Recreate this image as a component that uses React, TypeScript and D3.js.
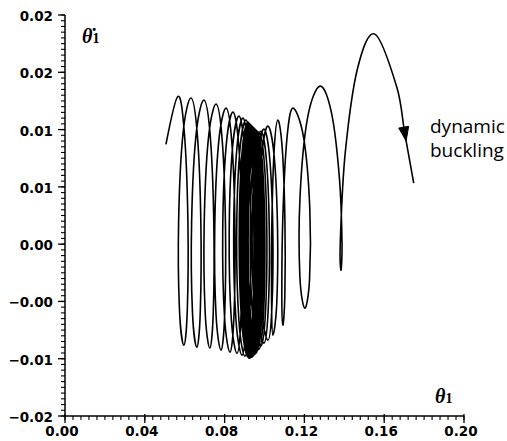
import React from 'react';
import * as d3 from 'd3';

const W = 507;
const H = 441;

// axis ticks
const xTickValues = [0, 0.04, 0.08, 0.12, 0.16, 0.2];
const xTickLabels = ['0.00', '0.04', '0.08', '0.12', '0.16', '0.20'];
const yTickValues = [0.02, 0.015, 0.01, 0.005, 0, -0.005, -0.01, -0.015];
const yTickLabels = ['0.02', '0.02', '0.01', '0.01', '0.00', '\u22120.00', '\u22120.01', '\u22120.02'];

// trajectory (theta1, theta1-dot)
const startTheta = 0.0506;
const startRate = 0.0087;

const peakTheta = [0.0566, 0.0631, 0.0696, 0.0757, 0.0807, 0.0842, 0.0872, 0.0892, 0.0907, 0.0917, 0.0922, 0.0927, 0.0932, 0.0937, 0.0942, 0.0947, 0.0952, 0.0957, 0.0962, 0.0972, 0.0982, 0.0997, 0.1017, 0.1067, 0.1142, 0.1278, 0.1553];
const peakRate = [0.0129, 0.01275, 0.01257, 0.01222, 0.01187, 0.01152, 0.01117, 0.011, 0.01083, 0.01065, 0.01056, 0.01048, 0.01039, 0.0103, 0.01021, 0.01013, 0.01004, 0.00995, 0.00986, 0.00978, 0.00986, 0.01004, 0.0103, 0.01083, 0.01187, 0.01379, 0.01833];

const troughTheta = [0.0596, 0.0661, 0.0726, 0.0782, 0.0827, 0.0862, 0.0887, 0.0902, 0.0917, 0.0922, 0.0927, 0.0932, 0.0937, 0.0942, 0.0947, 0.0952, 0.0957, 0.0962, 0.0972, 0.0982, 0.0997, 0.1017, 0.1042, 0.1092, 0.1202, 0.1383];
const troughRate = [-0.00882, -0.00899, -0.00908, -0.00925, -0.00943, -0.00952, -0.00969, -0.00978, -0.00986, -0.00995, -0.00995, -0.00986, -0.00986, -0.00978, -0.00969, -0.0096, -0.00952, -0.00934, -0.00917, -0.0089, -0.00864, -0.00838, -0.00794, -0.00707, -0.00559, -0.00227];

// half-widths (in theta) of each descending / ascending half loop
const descWidth = [0.0035, 0.0035, 0.0035, 0.0035, 0.0035, 0.0035, 0.0035, 0.0035, 0.0035, 0.0035, 0.0035, 0.0035, 0.0035, 0.0035, 0.0035, 0.0035, 0.0035, 0.0035, 0.0035, 0.0035, 0.0035, 0.0035, 0.0036, 0.0023, 0.0055, 0.0045];
const ascWidth = [0.0044, 0.0044, 0.0044, 0.0044, 0.0044, 0.0044, 0.0044, 0.0044, 0.0044, 0.0044, 0.0044, 0.0044, 0.0044, 0.0044, 0.0044, 0.0044, 0.0044, 0.0044, 0.0044, 0.0044, 0.0044, 0.0044, 0.0018, 0.0025, 0.0062, 0.0063];

// final descent (dynamic buckling)
const tailTheta = [0.1663, 0.1703, 0.1748];
const tailRate = [0.01371, 0.00969, 0.00533];

const annotation = ['dynamic', 'buckling'];

function buildTrajectory(): [number, number][] {
  const pts: [number, number][] = [[startTheta, startRate]];
  const fr = [0.25, 0.5, 0.75];
  const an = [Math.PI / 4, Math.PI / 2, (3 * Math.PI) / 4];
  const half = (x0: number, y0: number, x1: number, y1: number, w: number, s: number) => {
    const my = (y0 + y1) / 2;
    const hy = (y0 - y1) / 2;
    for (let i = 0; i < 3; i++) {
      pts.push([x0 + (x1 - x0) * fr[i] + s * w * Math.sin(an[i]), my + hy * Math.cos(an[i])]);
    }
  };
  for (let k = 0; k < peakTheta.length; k++) {
    pts.push([peakTheta[k], peakRate[k]]);
    if (k < troughTheta.length) {
      half(peakTheta[k], peakRate[k], troughTheta[k], troughRate[k], descWidth[k], 1);
      pts.push([troughTheta[k], troughRate[k]]);
      if (k + 1 < peakTheta.length) {
        half(troughTheta[k], troughRate[k], peakTheta[k + 1], peakRate[k + 1], ascWidth[k], -1);
      }
    }
  }
  for (let i = 0; i < tailTheta.length; i++) pts.push([tailTheta[i], tailRate[i]]);
  return pts;
}

export default function App() {
  const x = d3.scaleLinear().domain([0, 0.2]).range([65, 464]);
  const y = d3.scaleLinear().domain([-0.015, 0.02]).range([416, 15]);

  const xMinor = d3.range(0, 0.2 + 1e-9, 0.004);
  const yMinor = d3.range(-0.015, 0.02 + 1e-9, 0.0005);

  const traj = buildTrajectory();
  const line = d3
    .line<[number, number]>()
    .x((d) => x(d[0]))
    .y((d) => y(d[1]))
    .curve(d3.curveCatmullRom.alpha(0));
  const pathD = line(traj) || '';

  // arrow head on final descent
  const ax = x(tailTheta[1]);
  const ay = y(tailRate[1]);
  const dx = x(tailTheta[2]) - x(tailTheta[0]);
  const dy = y(tailRate[2]) - y(tailRate[0]);
  const len = Math.hypot(dx, dy);
  const ux = dx / len;
  const uy = dy / len;
  const tip = [ax + ux * 8, ay + uy * 8];
  const bc = [ax - ux * 6, ay - uy * 6];
  const arrow = `M${tip[0]},${tip[1]} L${bc[0] - uy * 5},${bc[1] + ux * 5} L${bc[0] + uy * 5},${bc[1] - ux * 5} Z`;

  const labelFont = 'DejaVu Sans, Verdana, sans-serif';

  return (
    <svg width={W} height={H} style={{ position: 'absolute', left: 0, top: 0, background: '#fff' }}>
      <rect x={0} y={0} width={W} height={H} fill="#fff" />
      <line x1={x(0)} x2={x(0)} y1={y(0.02)} y2={y(-0.015)} stroke="#000" strokeWidth={1.5} />
      <line x1={x(0)} x2={x(0.2)} y1={y(-0.015)} y2={y(-0.015)} stroke="#000" strokeWidth={1.5} />
      {yMinor.map((v, i) => (
        <line key={'ym' + i} x1={x(0) - 4} x2={x(0)} y1={y(v)} y2={y(v)} stroke="#000" strokeWidth={1.1} />
      ))}
      {yTickValues.map((v, i) => (
        <line key={'yM' + i} x1={x(0) - 7} x2={x(0)} y1={y(v)} y2={y(v)} stroke="#000" strokeWidth={1.3} />
      ))}
      {yTickValues.map((v, i) => (
        <text key={'yl' + i} x={x(0) - 12} y={y(v) + 6} textAnchor="end" fontFamily={labelFont} fontWeight="bold" fontSize={13.5} fill="#000">
          {yTickLabels[i]}
        </text>
      ))}
      {xMinor.map((v, i) => (
        <line key={'xm' + i} x1={x(v)} x2={x(v)} y1={y(-0.015)} y2={y(-0.015) + 4} stroke="#000" strokeWidth={1.1} />
      ))}
      {xTickValues.map((v, i) => (
        <line key={'xM' + i} x1={x(v)} x2={x(v)} y1={y(-0.015) - 2} y2={y(-0.015) + 7} stroke="#000" strokeWidth={1.3} />
      ))}
      {xTickValues.map((v, i) => (
        <text key={'xl' + i} x={x(v) - 3} y={436} textAnchor="middle" fontFamily={labelFont} fontWeight="bold" fontSize={13.5} fill="#000">
          {xTickLabels[i]}
        </text>
      ))}
      <text x={82} y={43} fontFamily="Liberation Serif, serif" fontWeight="bold" fill="#000">
        <tspan fontStyle="italic" fontSize={20}>{'\u03B8\u0307'}</tspan>
        <tspan fontSize={14}>1</tspan>
      </text>
      <text x={435} y={403} fontFamily="Liberation Serif, serif" fontWeight="bold" fill="#000">
        <tspan fontStyle="italic" fontSize={20}>{'\u03B8'}</tspan>
        <tspan fontSize={14}>1</tspan>
      </text>
      <path d={pathD} fill="none" stroke="#000" strokeWidth={1.6} strokeLinejoin="round" />
      <path d={arrow} fill="#000" stroke="#000" strokeWidth={1} />
      <text x={430} y={133} fontFamily="Open Sans, DejaVu Sans, sans-serif" fontSize={19} fill="#000">
        {annotation[0]}
      </text>
      <text x={430} y={157} fontFamily="Open Sans, DejaVu Sans, sans-serif" fontSize={19} fill="#000">
        {annotation[1]}
      </text>
    </svg>
  );
}
